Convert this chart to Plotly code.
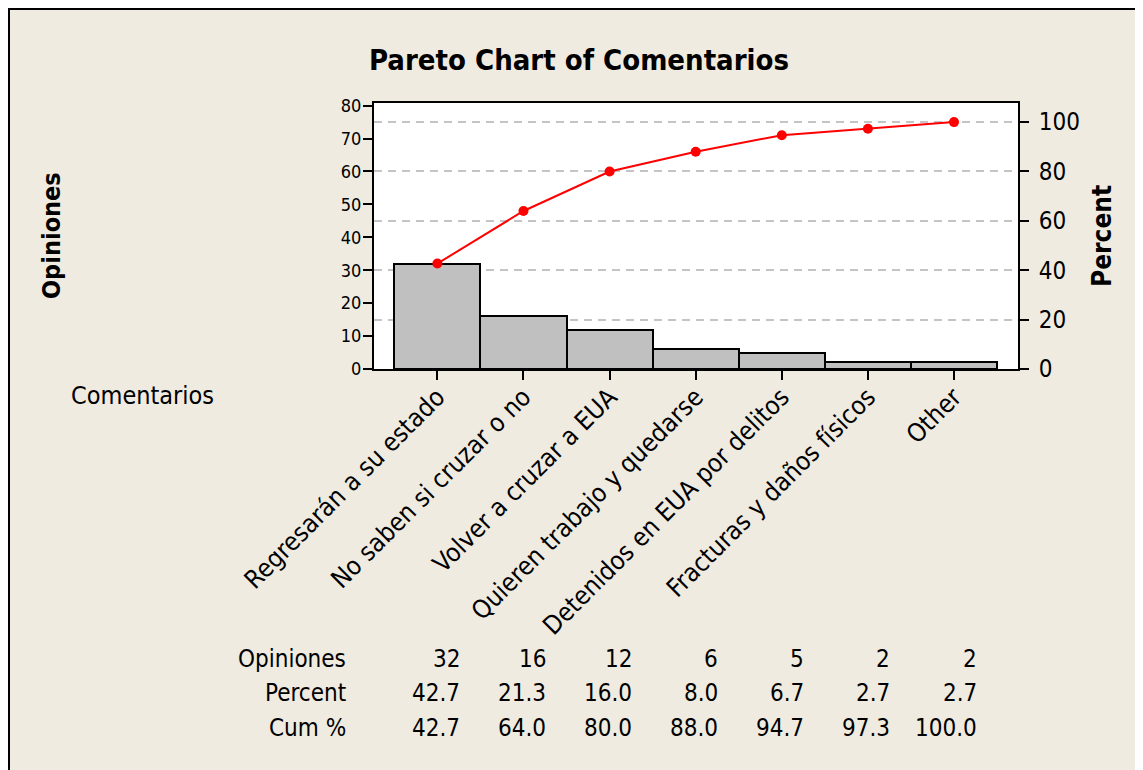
import plotly.graph_objects as go

# Pareto data
categories = [
    "Regresarán a su estado",
    "No saben si cruzar o no",
    "Volver a cruzar a EUA",
    "Quieren trabajo y quedarse",
    "Detenidos en EUA por delitos",
    "Fracturas y daños físicos",
    "Other",
]
opiniones = [32, 16, 12, 6, 5, 2, 2]
percent = [42.7, 21.3, 16.0, 8.0, 6.7, 2.7, 2.7]
cum_pct = [42.7, 64.0, 80.0, 88.0, 94.7, 97.3, 100.0]
left_ticks = [0, 10, 20, 30, 40, 50, 60, 70, 80]
right_ticks = [0, 20, 40, 60, 80, 100]

FONT = "DejaVu Sans Condensed, DejaVu Sans, sans-serif"
BG = "#EFEBE1"

# page body has an 8px margin, so positions below are window pixels minus OFF
OFF = 8
W, H = 1143, 770
ML, MT = 374 - OFF, 103 - OFF
MR = W - (1018 - OFF)
MB = H - (369 - OFF)
PW = W - ML - MR
PH = H - MT - MB


def px_x(px):
    return (px - OFF - ML) / PW


def px_y(py):
    return (H - MB - (py - OFF)) / PH


total = sum(opiniones)
left_max = 80.8
right_max = left_max * 100 / total

fig = go.Figure()

fig.add_trace(go.Bar(
    x=categories, y=opiniones, width=1,
    marker=dict(color="#C0C0C0", line=dict(color="black", width=2)),
    showlegend=False, hoverinfo="skip",
))

fig.add_trace(go.Scatter(
    x=categories, y=cum_pct, yaxis="y2", mode="lines+markers",
    line=dict(color="#FF0000", width=2),
    marker=dict(color="#FF0000", size=10),
    showlegend=False, hoverinfo="skip",
))

annotations = [
    dict(text="Opiniones", x=px_x(51), y=0.5, xref="paper", yref="paper",
         xanchor="center", yanchor="middle", textangle=-90, showarrow=False,
         font=dict(size=25, family=FONT, color="black", weight="bold")),
    dict(text="Percent", x=px_x(1102), y=0.5, xref="paper", yref="paper",
         xanchor="center", yanchor="middle", textangle=-90, showarrow=False,
         font=dict(size=26, family=FONT, color="black", weight="bold")),
    dict(text="Comentarios", x=px_x(216), y=px_y(395), xref="paper", yref="paper",
         xanchor="right", yanchor="middle", showarrow=False,
         font=dict(size=25, family=FONT, color="black")),
]

# Table below the chart
rows = [("Opiniones", [str(v) for v in opiniones], 659),
        ("Percent", [f"{v:.1f}" for v in percent], 693),
        ("Cum %", [f"{v:.1f}" for v in cum_pct], 728)]
for label, vals, py in rows:
    annotations.append(dict(text=label, x=px_x(348), y=px_y(py), xref="paper", yref="paper",
                            xanchor="right", yanchor="middle", showarrow=False,
                            font=dict(size=24, family=FONT, color="black")))
    for i, v in enumerate(vals):
        annotations.append(dict(text=v, x=i + 0.285, y=px_y(py), xref="x", yref="paper",
                                xanchor="right", yanchor="middle", showarrow=False,
                                font=dict(size=24, family=FONT, color="black")))

fig.update_layout(
    width=W, height=H,
    margin=dict(l=ML, r=MR, t=MT, b=MB, autoexpand=False),
    paper_bgcolor=BG, plot_bgcolor="white",
    font=dict(family=FONT, color="black"),
    bargap=0,
    title=dict(text="<b>Pareto Chart of Comentarios</b>", x=(579 - OFF) / W, xanchor="center",
               y=1 - (60 - OFF) / H, yanchor="middle", xref="container", yref="container",
               font=dict(size=29, family=FONT, color="black")),
    xaxis=dict(
        type="category", categoryarray=categories, range=[-0.736, 6.743],
        showline=True, mirror=True, linecolor="black", linewidth=2,
        ticks="outside", ticklen=9, tickwidth=2, tickcolor="black",
        tickangle=-45, tickfont=dict(size=25.5, family=FONT),
        ticklabelstandoff=-8, automargin=False,
        showgrid=False,
    ),
    yaxis=dict(
        range=[0, left_max], tickvals=left_ticks,
        showline=True, mirror=True, linecolor="black", linewidth=2,
        ticks="outside", ticklen=9, tickwidth=2, tickcolor="black",
        tickfont=dict(size=18, family=FONT), showgrid=False, zeroline=False,
        ticklabelstandoff=-2, automargin=False,
    ),
    yaxis2=dict(
        overlaying="y", side="right", range=[0, right_max], tickvals=right_ticks,
        ticks="outside", ticklen=10, tickwidth=2, tickcolor="black",
        tickfont=dict(size=24, family=FONT),
        showgrid=True, gridcolor="#C4C4C4", gridwidth=2, griddash="8px,6px",
        zeroline=False, showline=False, ticklabelstandoff=5, automargin=False,
    ),
    annotations=annotations,
    # outer frame: top and left edges of the figure (right/bottom run off the page)
    shapes=[dict(type="rect", xref="paper", yref="paper",
                 x0=(1 - ML) / PW, x1=(W + 50 - ML) / PW,
                 y0=(H - MB - (H + 50)) / PH, y1=(H - MB - 1) / PH,
                 line=dict(color="black", width=2), fillcolor="rgba(0,0,0,0)", layer="below")],
)

fig.write_html("out.html")
